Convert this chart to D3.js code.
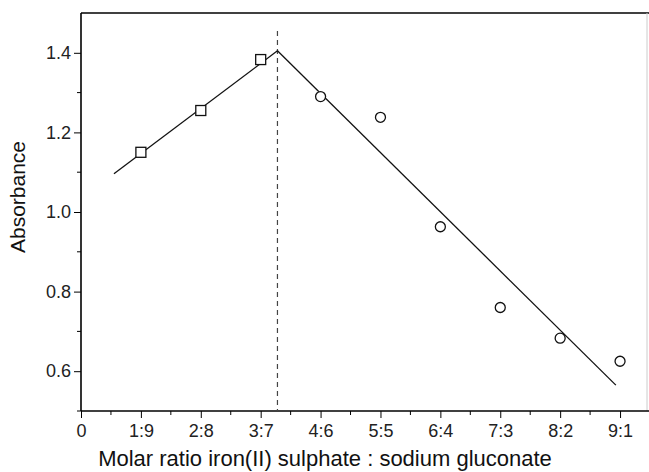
<!DOCTYPE html>
<html>
<head>
<meta charset="utf-8">
<script src="https://cdn.jsdelivr.net/npm/d3@7"></script>
<style>
  html, body { margin: 0; padding: 0; background: #fff; }
  svg { display: block; font-family: "Liberation Sans", Arial, sans-serif; }
</style>
</head>
<body>
<svg id="chart" width="649" height="472"></svg>
<script>
// Tick positions and labels for the molar-ratio axis
const xTickValues = [0, 1, 2, 3, 4, 5, 6, 7, 8, 9];
const xTickLabels = ["0", "1:9", "2:8", "3:7", "4:6", "5:5", "6:4", "7:3", "8:2", "9:1"];
const yTickValues = [0.6, 0.8, 1.0, 1.2, 1.4];

// Measured absorbance (squares: ligand-rich side, circles: iron-rich side)
const squareX = [1, 2, 3];
const squareY = [1.150, 1.255, 1.383];
const circleX = [4, 5, 6, 7, 8, 9];
const circleY = [1.290, 1.238, 0.963, 0.760, 0.683, 0.625];

// Linear fits meeting at the stoichiometric point
const fitLeftX = [0.55, 3.28];
const fitLeftY = [1.096, 1.405];
const fitRightX = [3.28, 8.93];
const fitRightY = [1.405, 0.565];
const peakX = 3.28;
const peakLineTop = 1.455;

const svg = d3.select("#chart");
const margin = { left: 81, top: 13, right: 2, bottom: 61 };
const W = 649, H = 472;

const x = d3.scaleLinear().domain([0, 9.45]).range([margin.left, W - margin.right]);
const y = d3.scaleLinear().domain([0.5, 1.5]).range([H - margin.bottom, margin.top]);

// Frame: top and right edges
svg.append("line").attr("x1", x(0)).attr("x2", W).attr("y1", y(1.5)).attr("y2", y(1.5))
  .attr("stroke", "#000").attr("stroke-width", 1.6);
svg.append("line").attr("x1", W - 2).attr("x2", W - 2).attr("y1", y(1.5)).attr("y2", y(0.5))
  .attr("stroke", "#ccc").attr("stroke-width", 1);

// Minor ticks
const xMinor = d3.range(0.5, 9.5, 1);
const yMinor = [0.5, 0.7, 0.9, 1.1, 1.3];

const gx = svg.append("g").attr("transform", `translate(0,${y(0.5)})`);
gx.call(d3.axisBottom(x).tickValues(xTickValues).tickSize(7).tickPadding(5)
  .tickFormat((d, i) => xTickLabels[i]));
gx.append("g").selectAll("line").data(xMinor).join("line")
  .attr("x1", d => x(d)).attr("x2", d => x(d)).attr("y1", 0).attr("y2", 4)
  .attr("stroke", "#000");
gx.select(".domain").attr("d", `M${x(0)},0H${W}`).attr("stroke-width", 1.6);

const gy = svg.append("g").attr("transform", `translate(${x(0)},0)`);
gy.call(d3.axisLeft(y).tickValues(yTickValues).tickSize(7).tickPadding(3)
  .tickFormat(d3.format(".1f")));
gy.append("g").selectAll("line").data(yMinor).join("line")
  .attr("y1", d => y(d)).attr("y2", d => y(d)).attr("x1", 0).attr("x2", -4)
  .attr("stroke", "#000");
gy.select(".domain").attr("d", `M0,${y(1.5)}V${y(0.5)}`).attr("stroke-width", 1.6);

svg.selectAll(".tick text").attr("font-size", 18).attr("fill", "#222")
  .attr("font-family", "Liberation Sans, Arial, sans-serif");
gx.selectAll(".tick text").attr("dy", "0.8em");

// Axis titles
svg.append("text").attr("x", (x(0) + W) / 2 - 40).attr("y", 466)
  .attr("text-anchor", "middle").attr("font-size", 22).attr("fill", "#111")
  .text("Molar ratio iron(II) sulphate : sodium gluconate");
svg.append("text").attr("transform", `translate(25,197) rotate(-90)`)
  .attr("text-anchor", "middle").attr("font-size", 21).attr("fill", "#111")
  .text("Absorbance");

// Dashed line at the intersection
svg.append("line").attr("x1", x(peakX)).attr("x2", x(peakX))
  .attr("y1", y(peakLineTop)).attr("y2", y(0.5))
  .attr("stroke", "#444").attr("stroke-width", 1.2).attr("stroke-dasharray", "5,4");

// Fit lines
const line = d3.line().x(d => x(d[0])).y(d => y(d[1]));
svg.append("path").datum(d3.zip(fitLeftX, fitLeftY)).attr("d", line)
  .attr("fill", "none").attr("stroke", "#111").attr("stroke-width", 1.3);
svg.append("path").datum(d3.zip(fitRightX, fitRightY)).attr("d", line)
  .attr("fill", "none").attr("stroke", "#111").attr("stroke-width", 1.3);

// Markers
svg.append("g").selectAll("rect").data(d3.zip(squareX, squareY)).join("rect")
  .attr("x", d => x(d[0]) - 5).attr("y", d => y(d[1]) - 5)
  .attr("width", 10).attr("height", 10)
  .attr("fill", "#fff").attr("stroke", "#111").attr("stroke-width", 1.3);
svg.append("g").selectAll("circle").data(d3.zip(circleX, circleY)).join("circle")
  .attr("cx", d => x(d[0])).attr("cy", d => y(d[1])).attr("r", 5)
  .attr("fill", "#fff").attr("stroke", "#111").attr("stroke-width", 1.3);
</script>
</body>
</html>
